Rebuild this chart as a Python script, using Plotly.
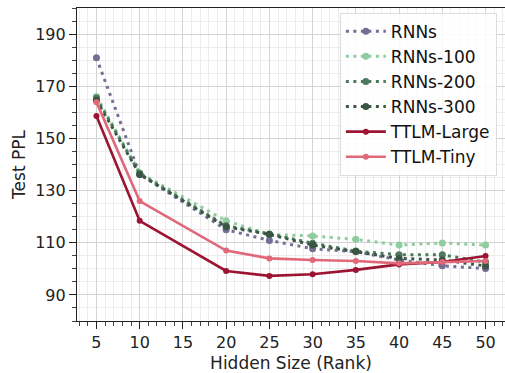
import plotly.graph_objects as go

hidden = [5, 10, 20, 25, 30, 35, 40, 45, 50]
rnns = [180.9, 136.3, 115.0, 110.9, 107.7, 106.6, 103.4, 101.2, 100.1]
rnns_100 = [166.1, 136.8, 118.4, 113.2, 112.6, 111.3, 109.1, 109.9, 109.1]
rnns_200 = [165.5, 136.5, 116.5, 113.4, 109.8, 106.8, 105.4, 105.4, 102.6]
rnns_300 = [164.6, 136.2, 116.1, 113.2, 109.1, 106.6, 104.0, 103.4, 101.1]
ttlm_large = [158.6, 118.4, 99.2, 97.3, 97.9, 99.6, 101.7, 102.6, 104.9]
ttlm_tiny = [163.9, 126.0, 107.0, 104.0, 103.4, 103.0, 102.1, 102.6, 103.0]

x_ticks = [5, 10, 15, 20, 25, 30, 35, 40, 45, 50]
y_ticks = [90, 110, 130, 150, 170, 190]

series = [
    ("RNNs", rnns, "#726e94", "dot", 3, 7),
    ("RNNs-100", rnns_100, "#8fcc9f", "dot", 3, 7),
    ("RNNs-200", rnns_200, "#4c7a5a", "dot", 3, 7),
    ("RNNs-300", rnns_300, "#3b5545", "dot", 3, 7),
    ("TTLM-Large", ttlm_large, "#9c1431", "solid", 2.6, 6),
    ("TTLM-Tiny", ttlm_tiny, "#e06878", "solid", 2.6, 6),
]

fig = go.Figure()
for name, ys, color, dash, lw, ms in series:
    fig.add_trace(go.Scatter(
        x=hidden, y=ys, name=name, mode="lines+markers",
        line=dict(color=color, width=lw, dash=("3px,4.5px" if dash == "dot" else "solid")),
        marker=dict(color=color, size=ms),
    ))

tick_font = dict(family="DejaVu Sans", size=16, color="#222")
title_font = dict(family="DejaVu Sans", size=17, color="#222")
fig.update_layout(
    width=505, height=373,
    margin=dict(l=77, r=0, t=8, b=52, autoexpand=False),
    paper_bgcolor="white", plot_bgcolor="white",
    font=tick_font,
    showlegend=True,
    legend=dict(
        x=0.981, y=0.985, xanchor="right", yanchor="top",
        bgcolor="rgba(255,255,255,0.85)", bordercolor="#dddddd", borderwidth=1,
        font=dict(family="DejaVu Sans", size=17, color="#111"),
        itemwidth=40,
    ),
)
fig.update_xaxes(
    range=[2.75, 52.25], tickvals=x_ticks, automargin=False,
    ticks="outside", ticklen=7, tickwidth=1.2, tickcolor="#222",
    showline=True, linecolor="#222", linewidth=1.2, mirror=True,
    showgrid=True, gridcolor="#d3d3d3", gridwidth=1, zeroline=False,
    minor=dict(dtick=1, ticks="outside", ticklen=3.5, tickcolor="#444",
               showgrid=True, gridcolor="#ececec", gridwidth=0.8),
    title=dict(text="Hidden Size (Rank)", standoff=7, font=title_font),
)
fig.update_yaxes(
    range=[80, 200], tickvals=y_ticks, automargin=False,
    ticks="outside", ticklen=7, tickwidth=1.2, tickcolor="#222",
    showline=True, linecolor="#222", linewidth=1.2, mirror=True,
    showgrid=True, gridcolor="#d3d3d3", gridwidth=1, zeroline=False,
    minor=dict(dtick=5, tick0=0, ticks="outside", ticklen=3.5, tickcolor="#444",
               showgrid=True, gridcolor="#ececec", gridwidth=0.8),
    title=dict(text="Test PPL", standoff=5, font=title_font),
)
fig.write_html(
    "out.html",
    config={"displayModeBar": False},
    post_script="document.body.style.margin='0';document.body.style.padding='0';",
)
